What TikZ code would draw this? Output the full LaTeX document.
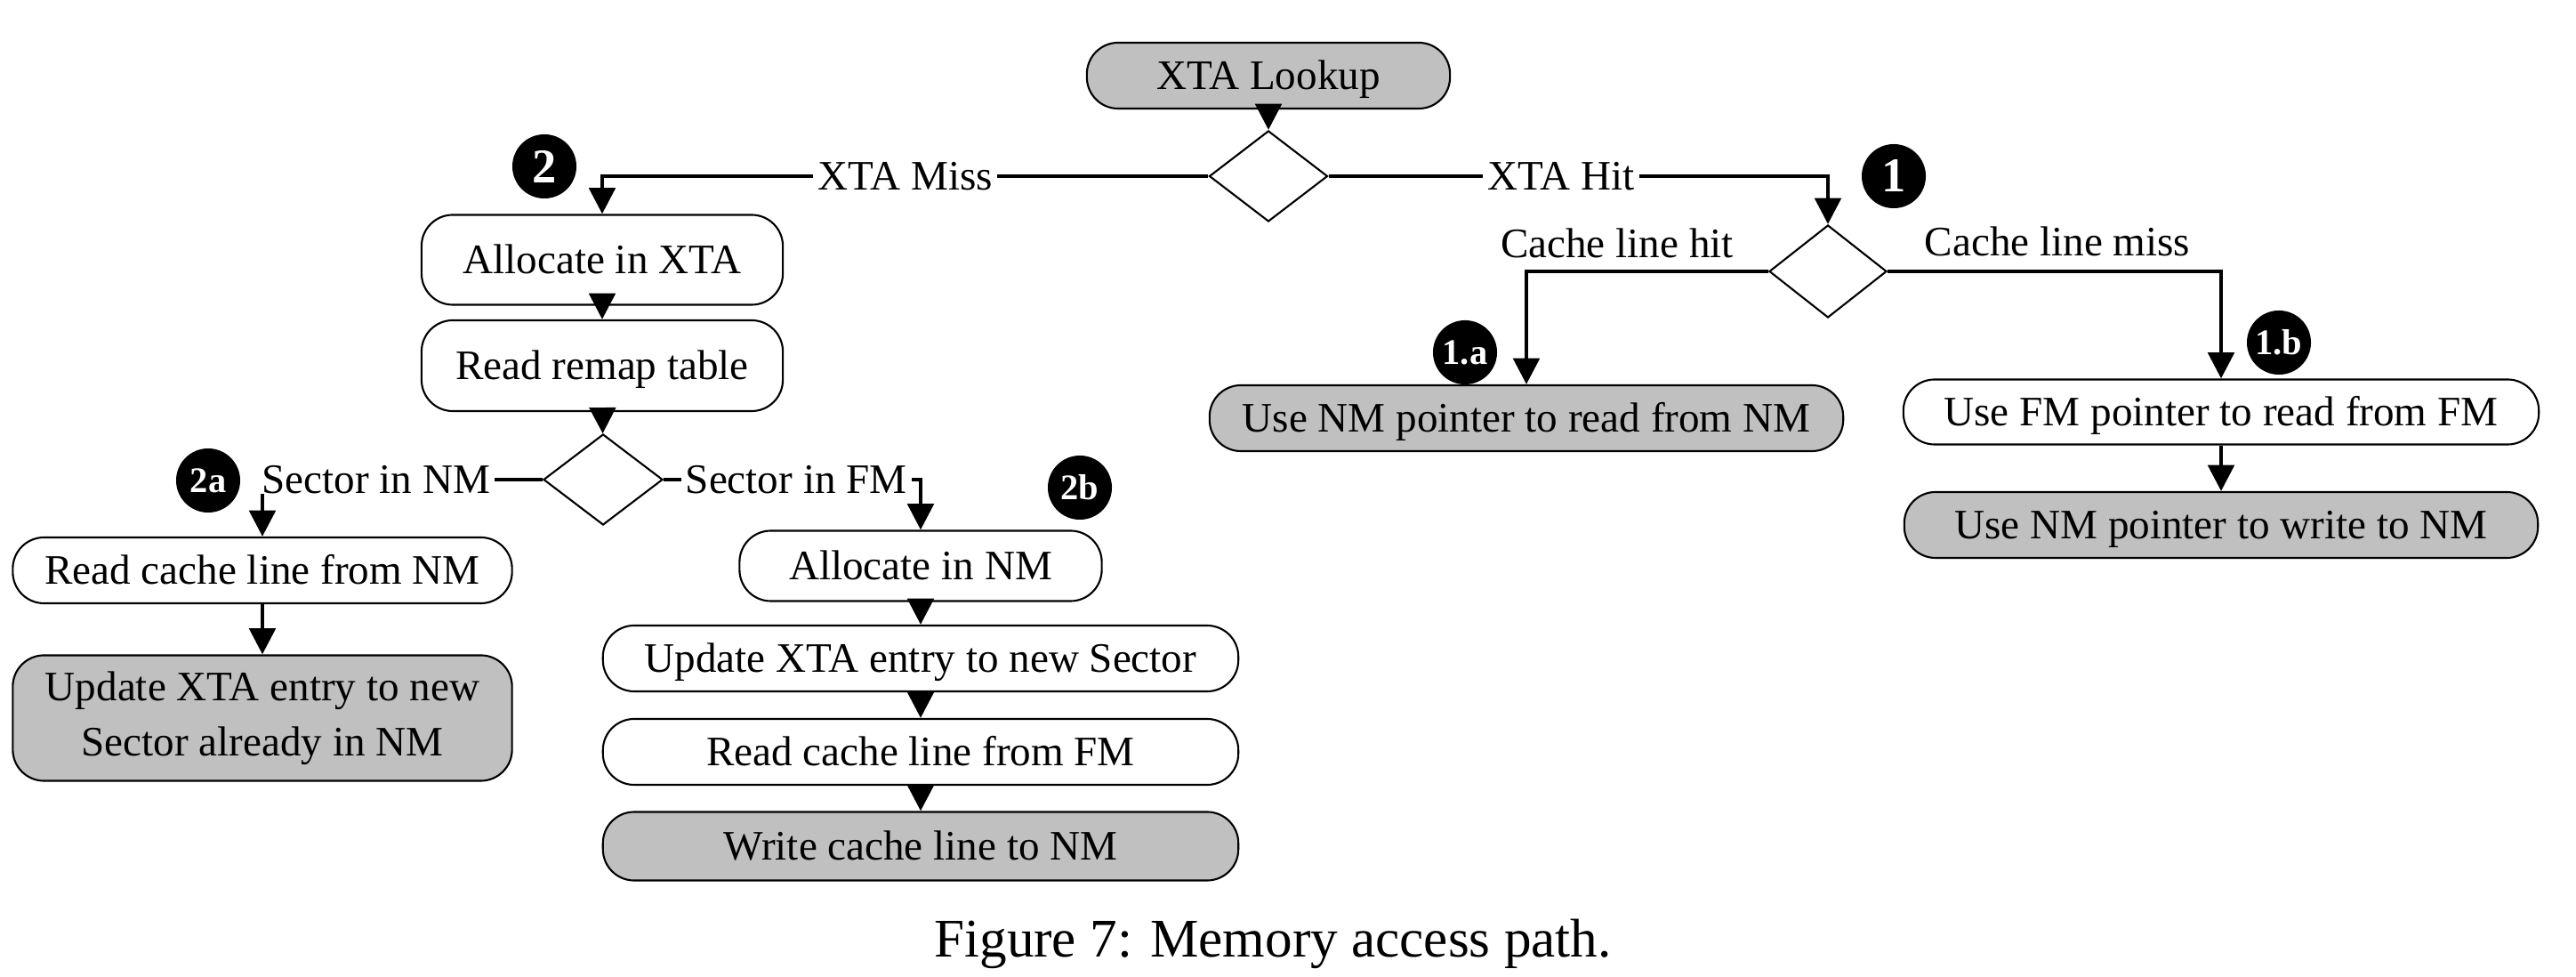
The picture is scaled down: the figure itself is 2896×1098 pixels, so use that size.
\documentclass[tikz,border=0pt]{standalone}
\usepackage{fontspec}
\setmainfont{Liberation Serif}
\usetikzlibrary{shapes.geometric,arrows.meta}
\definecolor{boxgray}{RGB}{192,192,192}
\newcommand\mfont{\fontsize{13.4}{16}\selectfont}
\begin{document}
\begin{tikzpicture}[x=0.01cm,y=-0.01cm,
  box/.style={draw, line width=0.6pt, rounded corners=10pt, fill=white, font=\mfont, inner sep=0pt, text height=8.9pt, text depth=0pt},
  grey/.style={box, fill=boxgray},
  greytwo/.style={draw, line width=0.6pt, rounded corners=10pt, fill=boxgray, font=\fontsize{13.4}{17.5}\selectfont, inner sep=0pt, align=center},
  dia/.style={draw, diamond, line width=0.6pt, fill=white, inner sep=0pt},
  badge/.style={circle, fill=black, text=white, inner sep=0pt, minimum size=0.72cm, font=\bfseries\fontsize{11.5}{12}\selectfont},
  bigbadge/.style={badge, font=\bfseries\fontsize{15.5}{16}\selectfont},
  conn/.style={line width=1.3pt, -{Triangle[length=8.3pt,width=8.3pt]}},
  lbl/.style={fill=white, font=\mfont, inner xsep=1.5pt, inner ysep=0pt},
  plain/.style={font=\mfont, inner sep=0pt}]
\useasboundingbox (0,0) rectangle (2896,1098);

% nodes
\node[grey, minimum width=4.08cm, minimum height=0.74cm] (look) at (1426,85) {XTA Lookup};
\node[dia, minimum width=1.33cm, minimum height=1.02cm] (d1) at (1426,198) {};
\node[box, minimum width=4.06cm, minimum height=1.01cm] (allocx) at (677,292) {Allocate in XTA};
\node[box, minimum width=4.06cm, minimum height=1.02cm] (remap) at (677,411) {Read remap table};
\node[dia, minimum width=1.34cm, minimum height=1.02cm] (d3) at (678,539) {};
\node[box, minimum width=5.61cm, minimum height=0.74cm] (rcnm) at (295,641) {Read cache line from NM};
\node[greytwo, minimum width=5.61cm, minimum height=1.41cm] (updnm) at (295,807) {Update XTA entry to new\\Sector already in NM};
\node[box, minimum width=4.07cm, minimum height=0.79cm] (allocnm) at (1035,636) {Allocate in NM};
\node[box, minimum width=7.14cm, minimum height=0.74cm] (updxta) at (1035,740) {Update XTA entry to new Sector};
\node[box, minimum width=7.14cm, minimum height=0.74cm] (rcfm) at (1035,845) {Read cache line from FM};
\node[grey, minimum width=7.14cm, minimum height=0.77cm] (wrnm) at (1035,951) {Write cache line to NM};
\node[dia, minimum width=1.32cm, minimum height=1.04cm] (d2) at (2055,305) {};
\node[grey, minimum width=7.12cm, minimum height=0.74cm] (nmread) at (1716,470) {Use NM pointer to read from NM};
\node[box, minimum width=7.14cm, minimum height=0.73cm] (fmread) at (2497,463) {Use FM pointer to read from FM};
\node[grey, minimum width=7.12cm, minimum height=0.74cm] (nmwrite) at (2497,590) {Use NM pointer to write to NM};

% connectors
\draw[conn] (look) -- (d1);
\draw[conn] (d1.west) -| node[lbl, pos=0.25] (lxmiss) {XTA Miss} (allocx.north);
\draw[conn] (d1.east) -| node[lbl, pos=0.233] (lxhit) {XTA Hit} (d2.north);
\draw[conn] (allocx) -- (remap);
\draw[conn] (remap) -- (d3);
\draw[conn] (d3.west) -| node[lbl, pos=0.297] (lsnm) {Sector in NM} (rcnm.north);
\draw[conn] (d3.east) -| node[lbl, pos=0.258] (lsfm) {Sector in FM} (allocnm.north);
\draw[conn] (rcnm) -- (updnm);
\draw[conn] (allocnm) -- (updxta);
\draw[conn] (updxta) -- (rcfm);
\draw[conn] (rcfm) -- (wrnm);
\draw[conn] (d2.west) -| (nmread.north);
\draw[conn] (d2.east) -| (fmread.north);
\draw[conn] (fmread) -- (nmwrite);

% branch labels
\node[plain, anchor=base] (lchit) at (1818,290) {Cache line hit};
\node[plain, anchor=base] (lcmiss) at (2313,288) {Cache line miss};

% badges
\node[bigbadge] (b1) at (2129,198) {1};
\node[bigbadge] (b2) at (612,187) {2};
\node[badge] (b1a) at (1647,396) {1.a};
\node[badge] (b1b) at (2562,385) {1.b};
\node[badge] (b2a) at (234,540) {2a};
\node[badge] (b2b) at (1214,548) {2b};

% caption
\node[font=\fontsize{17.4}{20}\selectfont, anchor=base, inner sep=0pt] (cap) at (1431,1076) {Figure 7: Memory access path.};
\end{tikzpicture}
\end{document}
